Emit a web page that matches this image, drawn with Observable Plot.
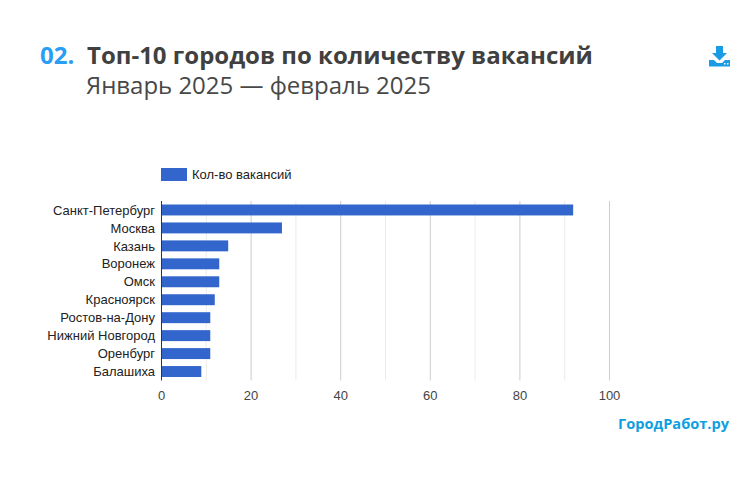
<!DOCTYPE html>
<html><head><meta charset="utf-8">
<script src="https://cdn.jsdelivr.net/npm/d3@7"></script>
<script src="https://cdn.jsdelivr.net/npm/@observablehq/plot@0.6"></script>
<style>
html,body{margin:0;padding:0;background:#fff}
#wrap{position:relative;width:755px;height:487px;overflow:hidden}
#wrap svg.plot{position:absolute;left:0;top:0}
.t{position:absolute;white-space:nowrap;font-family:"Open Sans",sans-serif}
</style></head><body>
<div id="wrap">
<div class="t" style="left:40px;top:41px;font-size:24px;line-height:28px;font-weight:700;color:#2a9df4">02.</div>
<div class="t" style="left:87px;top:41px;font-size:24px;line-height:28px;font-weight:700;color:#404040">Топ-10 городов по количеству вакансий</div>
<div class="t" style="left:86px;top:70.500px;font-size:24px;line-height:28px;font-weight:400;color:#484848;letter-spacing:-0.020px">Январь 2025 — февраль 2025</div>
<svg class="t" style="left:709px;top:46px" width="21" height="21" viewBox="0 0 21 21"><path fill="#1a9be6" d="M7 0h7v7h4l-7.500 7.500L3 7h4zM0 14h5l3 3h5l3-3h5v6.500H0z"/><rect x="15" y="17" width="1.500" height="1.500" fill="#fff"/><rect x="18" y="17" width="1.500" height="1.500" fill="#fff"/></svg>
<div class="t" style="left:161px;top:168px;width:26px;height:13px;background:#3366cc"></div>
<div class="t" style="left:192px;top:167px;font:13px/15px 'Liberation Sans',sans-serif;color:#222">Кол-во вакансий</div>
<div class="t" style="left:618px;top:412.500px;font-size:14.600px;line-height:20px;font-weight:700;color:#0f9fe0">ГородРабот.ру</div>
</div>
<script>
const cities = ["Санкт-Петербург","Москва","Казань","Воронеж","Омск","Красноярск","Ростов-на-Дону","Нижний Новгород","Оренбург","Балашиха"];
const vacancies = [92,27,15,13,13,12,11,11,11,9];
const majorTicks = [0,20,40,60,80,100];
const minorTicks = [10,30,50,70,90];
const rows = cities.map((city,i)=>({city,value:vacancies[i]}));
const chart = Plot.plot({
  width:755,height:487,
  marginLeft:161,marginRight:146,marginTop:201,marginBottom:106.5,
  style:{background:"transparent",fontFamily:"'Liberation Sans',sans-serif",fontSize:"13px"},
  x:{domain:[0,100]},
  y:{domain:cities,round:false,paddingInner:0.39,paddingOuter:0.195,align:0.5},
  marks:[
    Plot.ruleX(minorTicks,{stroke:"#ebebeb",strokeWidth:1}),
    Plot.ruleX(majorTicks.slice(1),{stroke:"#cccccc",strokeWidth:1}),
    Plot.barX(rows,{x:"value",y:"city",fill:"#3366cc"}),
    Plot.ruleX([0],{stroke:"#333333",strokeWidth:1}),
    Plot.axisY({tickSize:0,tickPadding:6.500,label:null,fill:"#222222",fontSize:13}),
    Plot.axisX({ticks:majorTicks,tickSize:0,tickPadding:9.500,label:null,fill:"#444444",fontSize:13})
  ]
});
chart.classList.add("plot");
document.getElementById("wrap").prepend(chart);
</script>
</body></html>
